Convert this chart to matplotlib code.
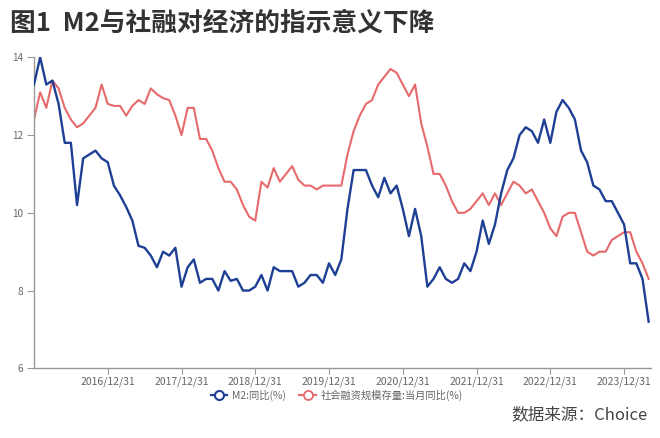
import matplotlib
matplotlib.use("Agg")
import matplotlib.pyplot as plt
from matplotlib.lines import Line2D
import numpy as np
import pandas as pd

plt.rcParams['font.family'] = ['Noto Sans CJK SC', 'DejaVu Sans']

# monthly categories: 2015-12 .. 2024-04
dates = pd.date_range("2015-12-31", "2024-04-30", freq="ME")

m2 = [13.3, 14.0, 13.3, 13.4, 12.8, 11.8, 11.8, 10.2, 11.4, 11.5, 11.6, 11.4,
      11.3, 10.7, 10.45, 10.15, 9.8, 9.15, 9.1, 8.9, 8.6, 9.0, 8.9, 9.1,
      8.1, 8.6, 8.8, 8.2, 8.3, 8.3, 8.0, 8.5, 8.25, 8.3, 8.0, 8.0,
      8.1, 8.4, 8.0, 8.6, 8.5, 8.5, 8.5, 8.1, 8.2, 8.4, 8.4, 8.2,
      8.7, 8.4, 8.8, 10.1, 11.1, 11.1, 11.1, 10.7, 10.4, 10.9, 10.5, 10.7,
      10.1, 9.4, 10.1, 9.4, 8.1, 8.3, 8.6, 8.3, 8.2, 8.3, 8.7, 8.5,
      9.0, 9.8, 9.2, 9.7, 10.5, 11.1, 11.4, 12.0, 12.2, 12.1, 11.8, 12.4,
      11.8, 12.6, 12.9, 12.7, 12.4, 11.6, 11.3, 10.7, 10.6, 10.3, 10.3, 10.0,
      9.7, 8.7, 8.7, 8.3, 7.2]

sf = [12.4, 13.1, 12.7, 13.4, 13.2, 12.7, 12.4, 12.2, 12.3, 12.5, 12.7, 13.3,
      12.8, 12.75, 12.75, 12.5, 12.75, 12.9, 12.8, 13.2, 13.05, 12.95, 12.9, 12.5,
      12.0, 12.7, 12.7, 11.9, 11.9, 11.6, 11.15, 10.8, 10.8, 10.6, 10.2, 9.9,
      9.8, 10.8, 10.65, 11.15, 10.8, 11.0, 11.2, 10.85, 10.7, 10.7, 10.6, 10.7,
      10.7, 10.7, 10.7, 11.5, 12.1, 12.5, 12.8, 12.9, 13.3, 13.5, 13.7, 13.6,
      13.3, 13.0, 13.3, 12.3, 11.7, 11.0, 11.0, 10.7, 10.3, 10.0, 10.0, 10.1,
      10.3, 10.5, 10.2, 10.5, 10.2, 10.5, 10.8, 10.7, 10.5, 10.6, 10.3, 10.0,
      9.6, 9.4, 9.9, 10.0, 10.0, 9.5, 9.0, 8.9, 9.0, 9.0, 9.3, 9.4,
      9.5, 9.5, 9.0, 8.7, 8.3]

tick_labels = ["2016/12/31", "2017/12/31", "2018/12/31", "2019/12/31",
               "2020/12/31", "2021/12/31", "2022/12/31", "2023/12/31"]
y_ticks = [6, 8, 10, 12, 14]

series_names = ["M2:同比(%)", "社会融资规模存量:当月同比(%)"]
blue = "#1d3f94"
red = "#e66a6c"
grey = "#999999"
txt = "#666666"

fig = plt.figure(figsize=(6.6, 4.38), dpi=100)
ax = fig.add_axes([34/660, 1-368.3/438, (650.4-33.9)/660, (368.3-57.3)/438])

x = np.arange(len(dates))
ax.plot(x, m2, color=blue, lw=1.7, zorder=3)
ax.plot(x, sf, color=red, lw=1.5, zorder=2)

ax.set_xlim(0, 100.3)
ax.set_ylim(6, 14)
ax.set_yticks(y_ticks)
ax.set_yticklabels([str(v) for v in y_ticks])
tick_pos = [list(dates.strftime("%Y/%m/%d")).index(t) for t in tick_labels]
ax.set_xticks(tick_pos)
ax.set_xticklabels(tick_labels)

for s in ["top", "right"]:
    ax.spines[s].set_visible(False)
for s in ["left", "bottom"]:
    ax.spines[s].set_color(grey)
    ax.spines[s].set_linewidth(1.0)
ax.tick_params(axis="y", length=5, width=0.8, color=grey, labelsize=7.2, labelcolor=txt, pad=3)
ax.tick_params(axis="x", length=4, width=0.8, color=grey, labelsize=7.5, labelcolor=txt, pad=2)

handles = [Line2D([], [], color=blue, lw=1.6, marker="o", ms=6.5, mfc="white", mew=1.5),
           Line2D([], [], color=red, lw=1.5, marker="o", ms=6.5, mfc="white", mew=1.3)]
leg = fig.legend(handles, series_names, loc="center", bbox_to_anchor=(337/660, 1-395/438),
                 ncol=2, frameon=False, fontsize=7.4, handlelength=1.6, handletextpad=0.5,
                 columnspacing=1.3)
for t in leg.get_texts():
    t.set_color(txt)

fig.text(10/660, 1-23/438, "图1  M2与社融对经济的指示意义下降", fontsize=18.5,
         fontweight="bold", color="#333333", va="center", ha="left")
fig.text(648/660, 1-415/438, "数据来源：Choice", fontsize=12, color="#444444",
         va="center", ha="right")

fig.savefig("out.png", dpi=100)
